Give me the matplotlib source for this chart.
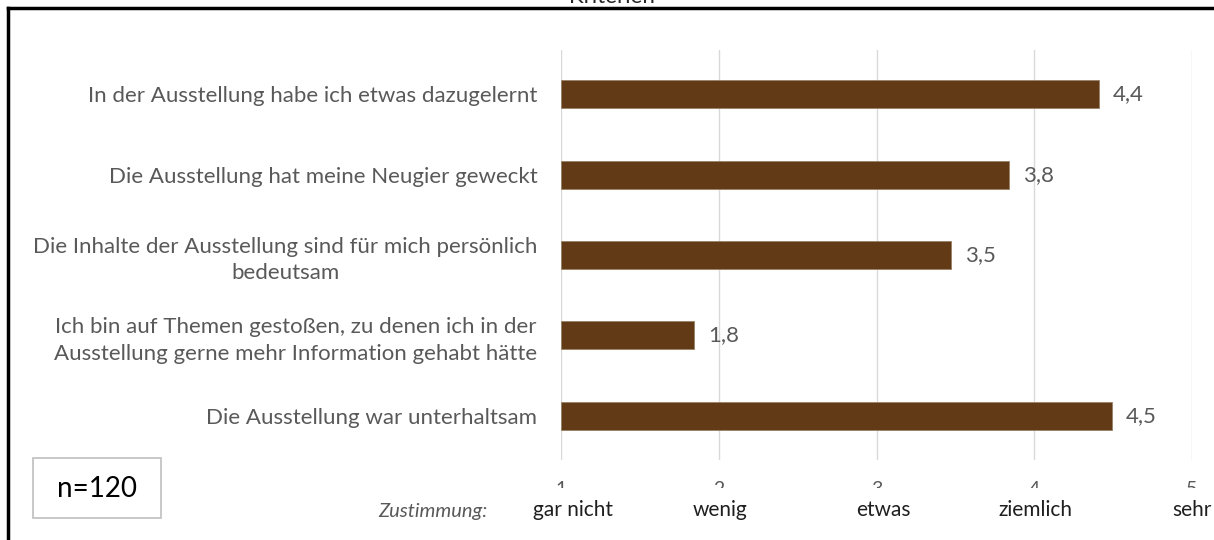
#!/usr/bin/env python3
"""
Zustimmung zu Aussagen ueber die Ausstellung (Mittelwerte, n=120)
"""
import matplotlib
matplotlib.use('Agg')
import matplotlib.pyplot as plt
from matplotlib.lines import Line2D
from matplotlib.patches import Rectangle

statements = [
    'In der Ausstellung habe ich etwas dazugelernt',
    'Die Ausstellung hat meine Neugier geweckt',
    'Die Inhalte der Ausstellung sind für mich persönlich\nbedeutsam',
    'Ich bin auf Themen gestoßen, zu denen ich in der\nAusstellung gerne mehr Information gehabt hätte',
    'Die Ausstellung war unterhaltsam',
]
means = [4.41, 3.84, 3.47, 1.84, 4.49]
scale_ticks = [1, 2, 3, 4, 5]
scale_words = ['gar nicht', 'wenig', 'etwas', 'ziemlich', 'sehr']

BAR = '#623b16'
GREY = '#595959'
W, H = 1214, 540
# the word boxes in the original are not quite centred on their ticks
word_shift = [0.075, 0.005, 0.045, 0.01, 0.0]

plt.rcParams['font.family'] = ['Lato', 'DejaVu Sans']

fig = plt.figure(figsize=(W / 100, H / 100), dpi=100)
ax = fig.add_axes([561 / W, 1 - 460 / H, 631 / W, 410 / H])

ypos = list(range(len(statements)))
ax.barh(ypos, [m - 1 for m in means], left=1, height=0.35, color=BAR,
        edgecolor='#9a8068', linewidth=0.6, zorder=2)
for y, m in zip(ypos, means):
  ax.text(m + 0.09, y, ('%.1f' % m).replace('.', ','), va='center',
          ha='left', fontsize=16, color=GREY)

# the scale words hide the lower part of the tick numbers
ax.add_patch(Rectangle((520 / W, 0), 1 - 520 / W, 1 - 488 / H,
                       transform=fig.transFigure, facecolor='white',
                       edgecolor='none', zorder=4, clip_on=False))
for t, w, dx in zip(scale_ticks, scale_words, word_shift):
  ax.text(t + dx, -0.123, w, transform=ax.get_xaxis_transform(),
          ha='center', va='center', fontsize=15, color='#1f1f1f', zorder=5,
          clip_on=False)

ax.set_xlim(1, 5)
ax.set_ylim(4.55, -0.55)
ax.set_yticks(ypos)
ax.set_yticklabels(statements, fontsize=16, color=GREY, ha='right',
                   multialignment='center', linespacing=1.4)
ax.tick_params(axis='y', length=0, pad=17)
ax.set_xticks(scale_ticks)
ax.set_xticklabels([str(t) for t in scale_ticks], fontsize=14, color=GREY)
ax.tick_params(axis='x', length=0, pad=15)
ax.grid(axis='x', color='#d9d9d9', linewidth=1, zorder=0)
for s in ax.spines.values():
  s.set_visible(False)

fig.text(488 / W, 1 - 512 / H, 'Zustimmung:', ha='right', va='center',
         fontsize=14.5, color=GREY, style='italic', zorder=5)

# n box
fig.add_artist(Rectangle((33 / W, 1 - 518 / H), 128 / W, 60 / H,
                         transform=fig.transFigure, facecolor='white',
                         edgecolor='#bfbfbf', linewidth=1.2))
fig.text(97 / W, 1 - 489 / H, 'n=120', ha='center', va='center',
         fontsize=20, color='black')

# frame of the cut-off chart page
fig.add_artist(Line2D([8 / W, 1], [1 - 8 / H, 1 - 8 / H],
                      transform=fig.transFigure, color='black', linewidth=2.5))
fig.add_artist(Line2D([8 / W, 8 / W], [0, 1 - 8 / H],
                      transform=fig.transFigure, color='black', linewidth=2.5))
fig.text(612 / W, 1 - 3 / H, 'Kriterien', ha='center', va='baseline',
         fontsize=16, color='#262626')

fig.savefig('out.png', dpi=100)
